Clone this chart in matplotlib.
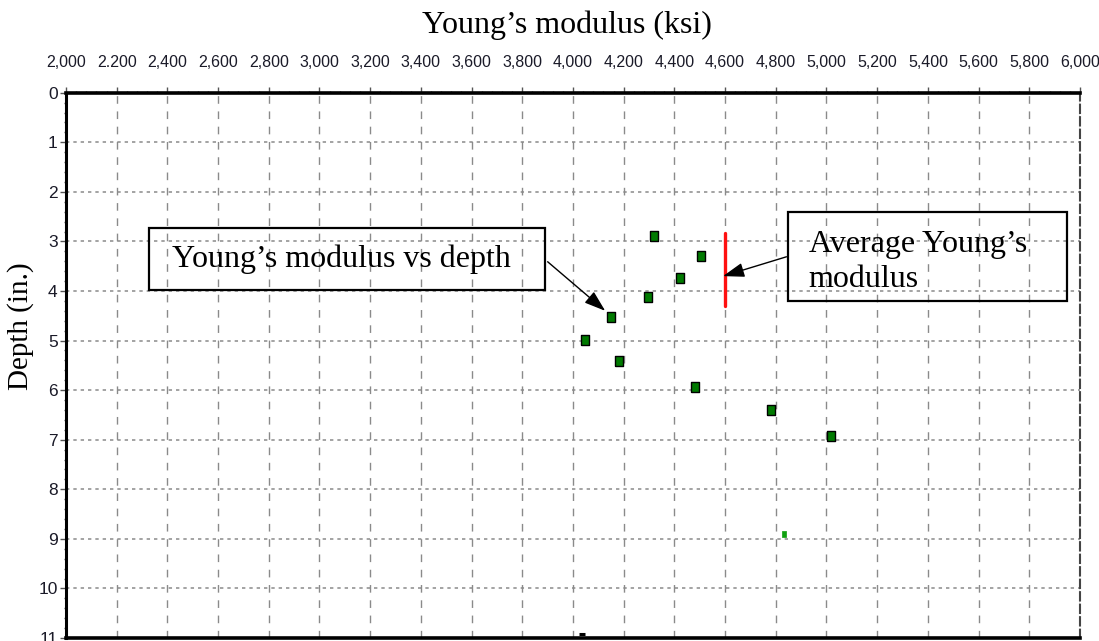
import matplotlib
matplotlib.use("Agg")
import matplotlib.pyplot as plt
from matplotlib.patches import Rectangle
from matplotlib.ticker import FixedLocator, FixedFormatter, MultipleLocator

# pomiary: modul Younga vs glebokosc
modulus = [4321, 4505, 4424, 4295, 4148, 4047, 4181, 4481, 4781, 5019]
depth = [2.89, 3.29, 3.73, 4.13, 4.53, 4.98, 5.42, 5.93, 6.41, 6.92]
# pojedynczy maly punkt i kreska przy dnie
small_mod = [4831]
small_depth = [8.90]
dash_mod = [4035]
dash_depth = [10.92]

# srednia wartosc modulu
avg_modulus = 4600
avg_depth_range = [2.83, 4.31]

xticks = list(range(2000, 6001, 200))
xlabels = ["2,000", "2.200", "2,400", "2,600", "2,800", "3,000", "3,200", "3,400",
           "3,600", "3,800", "4,000", "4,200", "4,400", "4,600", "4,800", "5,000",
           "5,200", "5,400", "5,600", "5,800", "6,000"]
yticks = list(range(0, 12))

serif = ["Liberation Serif", "DejaVu Serif"]
sans = ["Liberation Sans", "DejaVu Sans"]

fig = plt.figure(figsize=(10.99, 6.41), dpi=100)
ax = fig.add_axes([0.06005, 0.00468, 0.92266, 0.8507])

ax.set_xlim(2000, 6000)
ax.set_ylim(11, 0)

# siatka
for xv in xticks:
    ax.axvline(xv, color="#8a8a8a", lw=1.0, ls=(0, (5.5, 5.5)), zorder=1)
for yv in yticks:
    ax.axhline(yv, color="#8a8a8a", lw=1.1, ls=(0, (2.2, 2.6)), zorder=1)

# punkty
rect = [(-0.34, -0.5), (0.34, -0.5), (0.34, 0.5), (-0.34, 0.5), (-0.34, -0.5)]
ax.plot(modulus, depth, ls="none", marker=rect, ms=7.5, mfc="#007a00",
        mec="black", mew=1.0, zorder=4)
ax.plot(small_mod, small_depth, ls="none", marker=rect, ms=3.8, mfc="#10a010",
        mec="#10a010", mew=0.5, zorder=4)
ax.plot(dash_mod, dash_depth, ls="none", marker="_", ms=5, mec="black",
        mew=2.2, zorder=4, clip_on=False)

# linia sredniej
ax.plot([avg_modulus, avg_modulus], avg_depth_range, color="#ff1010", lw=2.4,
        solid_capstyle="round", zorder=3)

# osie
ax.xaxis.tick_top()
ax.xaxis.set_major_locator(FixedLocator(xticks))
ax.xaxis.set_major_formatter(FixedFormatter(xlabels))
ax.xaxis.set_minor_locator(MultipleLocator(40))
ax.yaxis.set_major_locator(FixedLocator(yticks))
ax.yaxis.set_minor_locator(MultipleLocator(0.2))
ax.tick_params(axis="x", which="major", length=4.5, width=1, color="#555555",
               pad=11.5, labelsize=11.5, labelcolor="#1a1a28")
ax.tick_params(axis="y", which="major", length=4, width=1, color="#555555",
               pad=2, labelsize=12.5, labelcolor="#1a1a28")
ax.tick_params(which="minor", length=1.5, width=1, color="#555555")
for lab in ax.get_xticklabels() + ax.get_yticklabels():
    lab.set_family(sans)

ax.spines["top"].set_linewidth(2.6)
ax.spines["left"].set_linewidth(2.2)
ax.spines["bottom"].set_linewidth(2.6)
ax.spines["right"].set_color("#444444")
ax.spines["right"].set_linewidth(1.5)
ax.spines["right"].set_linestyle((0, (4, 2)))
for s in ax.spines.values():
    s.set_zorder(5)

fig.text(567 / 1099, 1 - 33 / 641, "Young\u2019s modulus (ksi)", family=serif,
         fontsize=23, ha="center", va="baseline")
fig.text(21 / 1099, 1 - 326 / 641, "Depth (in.)", family=serif, fontsize=21,
         rotation=90, ha="center", va="center")

# ramki z opisami
ax.add_patch(Rectangle((2329, 2.73), 3888 - 2329, 3.98 - 2.73, fill=False,
                       ec="black", lw=1.6, zorder=6))
ax.text(2417, 3.51, "Young\u2019s modulus vs depth", family=serif, fontsize=23,
        va="baseline", ha="left", zorder=6)
ax.annotate("", xy=(4127, 4.40), xytext=(3900, 3.41),
            arrowprops=dict(arrowstyle="-|>,head_length=0.65,head_width=0.22",
                            color="black", lw=1.0, mutation_scale=20,
                            shrinkA=0, shrinkB=0), zorder=6)

ax.add_patch(Rectangle((4847, 2.40), 5950 - 4847, 4.21 - 2.40, fill=False,
                       ec="black", lw=1.6, zorder=6))
ax.text(4930, 3.21, "Average Young\u2019s", family=serif, fontsize=23,
        va="baseline", ha="left", zorder=6)
ax.text(4930, 3.92, "modulus", family=serif, fontsize=23,
        va="baseline", ha="left", zorder=6)
ax.annotate("", xy=(4592, 3.70), xytext=(4842, 3.31),
            arrowprops=dict(arrowstyle="-|>,head_length=0.65,head_width=0.22",
                            color="black", lw=1.0, mutation_scale=20,
                            shrinkA=0, shrinkB=0), zorder=6)

fig.savefig("out.png", dpi=100)
